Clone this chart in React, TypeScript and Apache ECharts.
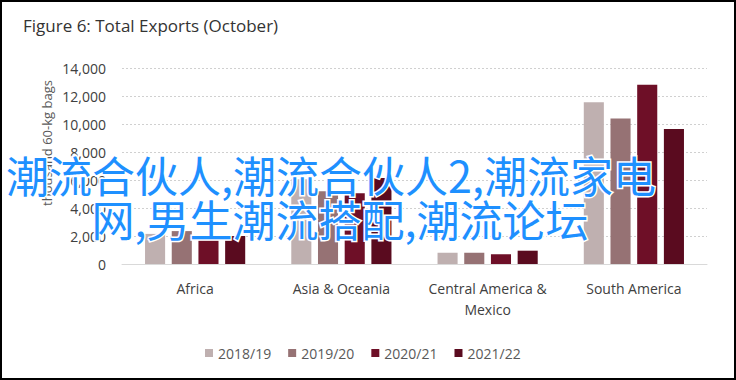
import React, { useEffect, useRef } from "react";
import * as echarts from "echarts";

const categories = ["Africa", "Asia & Oceania", "Central America & Mexico", "South America"];
const seriesNames = ["2018/19", "2019/20", "2020/21", "2021/22"];
const v2018 = [2150, 6050, 800, 11550];
const v2019 = [2350, 5200, 800, 10400];
const v2020 = [1950, 5050, 700, 12800];
const v2021 = [2000, 6150, 950, 9650];
const yTicks = { min: 0, max: 14000, interval: 2000 };
const colors = ["#bfb0b0", "#967274", "#6e0f27", "#5a0b1f"];
const titleText = "Figure 6: Total Exports (October)";
const yAxisName = "thousand 60-kg bags";
const overlayLine1 = "潮流合伙人,潮流合伙人2,潮流家电";
const overlayLine2 = "网,男生潮流搭配,潮流论坛";

export default function App() {
  const ref = useRef<HTMLDivElement>(null);
  useEffect(() => {
    document.body.style.margin = "0";
    const chart = echarts.init(ref.current!, null, { renderer: "svg" });
    const values = [v2018, v2019, v2020, v2021];
    const font = "'Open Sans', sans-serif";
    chart.setOption({
      animation: false,
      backgroundColor: "#ffffff",
      color: colors,
      title: {
        text: titleText,
        left: 18,
        top: 12,
        textStyle: { fontFamily: font, fontSize: 17, fontWeight: "normal", color: "#333333" },
      },
      legend: {
        data: seriesNames,
        left: 200,
        top: 341,
        icon: "rect",
        itemWidth: 8,
        itemHeight: 8,
        itemGap: 17,
        textStyle: { fontFamily: font, fontSize: 14, color: "#595959" },
      },
      grid: { left: 122, right: 29, top: 68, bottom: 116 },
      xAxis: {
        type: "category",
        data: categories,
        axisLine: { lineStyle: { color: "#d9d9d9", width: 1 } },
        axisTick: { show: false },
        axisLabel: {
          fontFamily: font,
          fontSize: 14,
          color: "#404040",
          margin: 14,
          lineHeight: 21,
          interval: 0,
          formatter: (v: string) => v.replace("& Mexico", "&\nMexico"),
        },
      },
      yAxis: {
        type: "value",
        min: yTicks.min,
        max: yTicks.max,
        interval: yTicks.interval,
        axisLine: { show: false },
        axisTick: { show: false },
        axisLabel: {
          fontFamily: font,
          fontSize: 14,
          color: "#404040",
          margin: 16,
          formatter: (v: number) => v.toLocaleString("en-US"),
        },
        splitLine: { lineStyle: { color: "#d0d0d0", type: [2, 2], width: 1 } },
      },
      series: seriesNames.map((name, i) => ({
        name,
        type: "bar",
        data: values[i],
        barGap: "33%",
        barCategoryGap: "31.5%",
        itemStyle: { color: colors[i] },
      })),
      graphic: [
        {
          type: "text",
          x: 47,
          y: 143,
          rotation: Math.PI / 2,
          style: {
            text: yAxisName,
            fontFamily: font,
            fontSize: 13,
            fill: "#595959",
            textAlign: "center",
            textVerticalAlign: "middle",
          },
        },
        {
          type: "text",
          x: 331,
          y: 174,
          z: 100,
          style: {
            text: overlayLine1,
            fontFamily: "'Noto Sans CJK SC', sans-serif",
            fontSize: 43,
            fill: "#1e90ff",
            stroke: "#ffffff",
            lineWidth: 3,
            textAlign: "center",
            textVerticalAlign: "middle",
          },
        },
        {
          type: "text",
          x: 340,
          y: 218,
          z: 100,
          style: {
            text: overlayLine2,
            fontFamily: "'Noto Sans CJK SC', sans-serif",
            fontSize: 43,
            fill: "#1e90ff",
            stroke: "#ffffff",
            lineWidth: 3,
            textAlign: "center",
            textVerticalAlign: "middle",
          },
        },
        {
          type: "rect",
          z: 100,
          shape: { x: 1, y: 1, width: 734, height: 378 },
          style: { fill: "none", stroke: "#000000", lineWidth: 2 },
        },
      ],
    });
    return () => chart.dispose();
  }, []);
  return <div ref={ref} style={{ width: 736, height: 380 }} />;
}
